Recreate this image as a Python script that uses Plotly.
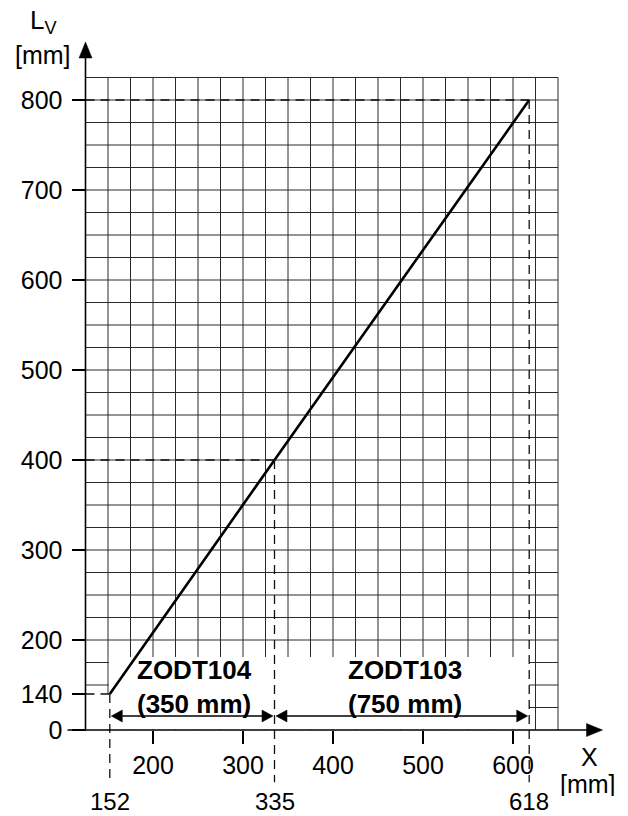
import plotly.graph_objects as go

# Usable length Lv as a function of mounting dimension X
x_mm = [152, 335, 618]
lv_mm = [140, 400, 800]

x_ticks = [200, 300, 400, 500, 600]
y_ticks = [100, 140, 200, 300, 400, 500, 600, 700, 800]
y_ticktext = ["0", "140", "200", "300", "400", "500", "600", "700", "800"]

# Range limits marked with dashed lines and labelled below the axis
marked_x = [152, 335, 618]
marked_lv = [140, 400, 800]
marked_text = ["152", "335", "618"]

# Product ranges between the marked limits
range_names = ["ZODT104", "ZODT103"]
range_lengths = ["(350 mm)", "(750 mm)"]

# ---- geometry of the drawing (0.9 px per mm on both axes) ----
PX = 0.9
X_AXIS_AT = 125      # position of the vertical axis on the X scale
LV_AXIS_AT = 100     # position of the horizontal axis (labelled "0")
GRID_STEP = 25
GRID_X_END = 650
GRID_LV_END = 825
X_RANGE = [200 - 153 / PX, 200 + (628 - 153) / PX]
Y_RANGE = [200 - (816 - 640) / PX, 200 + 640 / PX]


def mm(px):
    return px / PX


FONT = "Liberation Sans, Arial, Helvetica, sans-serif"
INK = "#000000"
GRID = "#2a2a2a"

fig = go.Figure()

fig.add_trace(go.Scatter(
    x=x_mm, y=lv_mm, mode="lines",
    line=dict(color=INK, width=2.6),
    hoverinfo="skip", showlegend=False,
))

shapes = []

# chart grid
for gx in range(X_AXIS_AT + GRID_STEP, GRID_X_END + 1, GRID_STEP):
    shapes.append(dict(type="line", layer="below", x0=gx, x1=gx,
                       y0=LV_AXIS_AT, y1=GRID_LV_END,
                       line=dict(color=GRID, width=1)))
for gy in range(LV_AXIS_AT + GRID_STEP, GRID_LV_END + 1, GRID_STEP):
    shapes.append(dict(type="line", layer="below", x0=X_AXIS_AT, x1=GRID_X_END,
                       y0=gy, y1=gy, line=dict(color=GRID, width=1)))

# blank panel behind the range labels
shapes.append(dict(type="rect", layer="below", x0=X_AXIS_AT + 0.6, x1=marked_x[-1],
                   y0=LV_AXIS_AT + 0.6, y1=marked_lv[0],
                   fillcolor="white", line=dict(width=0)))
shapes.append(dict(type="rect", layer="below", x0=marked_x[0] - 1, x1=marked_x[-1],
                   y0=marked_lv[0], y1=181,
                   fillcolor="white", line=dict(width=0)))

# dashed reference lines
dash = dict(color="#111111", width=1.3, dash="9px,6px")
for xv, lv in zip(marked_x, marked_lv):
    shapes.append(dict(type="line", layer="above", x0=X_AXIS_AT, x1=xv,
                       y0=lv, y1=lv, line=dash))
    shapes.append(dict(type="line", layer="above", x0=xv, x1=xv,
                       y0=lv, y1=42, line=dash))

# axes with arrowheads
x_tip = X_AXIS_AT + mm(603 - 86)
lv_tip = LV_AXIS_AT + mm(731 - 43)
shapes.append(dict(type="line", layer="above", x0=X_AXIS_AT - mm(18), x1=x_tip - mm(6),
                   y0=LV_AXIS_AT, y1=LV_AXIS_AT, line=dict(color=INK, width=1.6)))
shapes.append(dict(type="line", layer="above", x0=X_AXIS_AT, x1=X_AXIS_AT,
                   y0=LV_AXIS_AT, y1=lv_tip - mm(6), line=dict(color=INK, width=1.6)))
shapes.append(dict(type="path", layer="above",
                   path=f"M {x_tip},{LV_AXIS_AT} L {x_tip - mm(16)},{LV_AXIS_AT + mm(6.5)} "
                        f"L {x_tip - mm(16)},{LV_AXIS_AT - mm(6.5)} Z",
                   fillcolor=INK, line=dict(color=INK, width=0.5)))
shapes.append(dict(type="path", layer="above",
                   path=f"M {X_AXIS_AT},{lv_tip} L {X_AXIS_AT - mm(6.5)},{lv_tip - mm(16)} "
                        f"L {X_AXIS_AT + mm(6.5)},{lv_tip - mm(16)} Z",
                   fillcolor=INK, line=dict(color=INK, width=0.5)))

# double-headed dimension arrows between the marked limits
ARROW_LV = LV_AXIS_AT + mm(731 - 717)
head_len, head_half = mm(11), mm(6)
for a, b in zip(marked_x[:-1], marked_x[1:]):
    a_tip, b_tip = a + mm(1.5), b - mm(1.5)
    shapes.append(dict(type="line", layer="above", x0=a_tip + head_len, x1=b_tip - head_len,
                       y0=ARROW_LV, y1=ARROW_LV, line=dict(color=INK, width=1.5)))
    for tip, d in ((a_tip, 1), (b_tip, -1)):
        shapes.append(dict(type="path", layer="above",
                           path=f"M {tip},{ARROW_LV} L {tip + d * head_len},{ARROW_LV + head_half} "
                                f"L {tip + d * head_len},{ARROW_LV - head_half} Z",
                           fillcolor=INK, line=dict(color=INK, width=0.5)))

annotations = []
for a, b, name, length in zip(marked_x[:-1], marked_x[1:], range_names, range_lengths):
    annotations.append(dict(x=(a + b) / 2 + 3, y=148, xref="x", yref="y",
                            text=f"<b>{name}</b><br><b>{length}</b>", showarrow=False,
                            font=dict(family=FONT, size=26, color=INK),
                            align="center", xanchor="center", yanchor="middle"))
for xv, txt in zip(marked_x, marked_text):
    annotations.append(dict(x=xv, y=200 - (801 - 640) / PX, xref="x", yref="y",
                            text=txt, showarrow=False, height=20, valign="middle",
                            font=dict(family=FONT, size=24, color=INK),
                            xanchor="center", yanchor="middle"))

# axis titles
annotations.append(dict(x=200 + (43 - 153) / PX, y=200 + (640 - 21) / PX, xref="x", yref="y",
                        text="L<sub>V</sub>", showarrow=False,
                        font=dict(family=FONT, size=26, color=INK),
                        xanchor="center", yanchor="middle"))
annotations.append(dict(x=200 + (43 - 153) / PX, y=200 + (640 - 55) / PX, xref="x", yref="y",
                        text="[mm]", showarrow=False,
                        font=dict(family=FONT, size=25, color=INK),
                        xanchor="center", yanchor="middle"))
annotations.append(dict(x=200 + (589 - 153) / PX, y=200 - (757 - 640) / PX, xref="x", yref="y",
                        text="X", showarrow=False, height=22, valign="middle",
                        font=dict(family=FONT, size=25, color=INK),
                        xanchor="center", yanchor="middle"))
annotations.append(dict(x=200 + (588 - 153) / PX, y=200 - (784 - 640) / PX, xref="x", yref="y",
                        text="[mm]", showarrow=False, height=24, valign="middle",
                        font=dict(family=FONT, size=25, color=INK),
                        xanchor="center", yanchor="middle"))

fig.update_layout(
    width=628, height=816,
    margin=dict(l=0, r=0, t=0, b=0),
    paper_bgcolor="white", plot_bgcolor="white",
    shapes=shapes, annotations=annotations,
    showlegend=False,
    xaxis=dict(
        range=X_RANGE, domain=[0, 1], anchor="free",
        position=(LV_AXIS_AT - Y_RANGE[0]) / (Y_RANGE[1] - Y_RANGE[0]),
        tickmode="array", tickvals=x_ticks, ticktext=[str(v) for v in x_ticks],
        ticks="outside", ticklen=13, tickwidth=1.5, tickcolor=INK,
        showgrid=False, zeroline=False, showline=False,
        tickfont=dict(family=FONT, size=25, color=INK),
        fixedrange=True,
    ),
    yaxis=dict(
        range=Y_RANGE, domain=[0, 1], anchor="free",
        position=(X_AXIS_AT - X_RANGE[0]) / (X_RANGE[1] - X_RANGE[0]),
        tickmode="array", tickvals=y_ticks, ticktext=y_ticktext,
        ticks="outside", ticklen=14, tickwidth=1.5, tickcolor=INK,
        showgrid=False, zeroline=False, showline=False,
        tickfont=dict(family=FONT, size=25, color=INK),
        ticklabelstandoff=4,
        fixedrange=True,
    ),
)

fig.write_html("out.html")
